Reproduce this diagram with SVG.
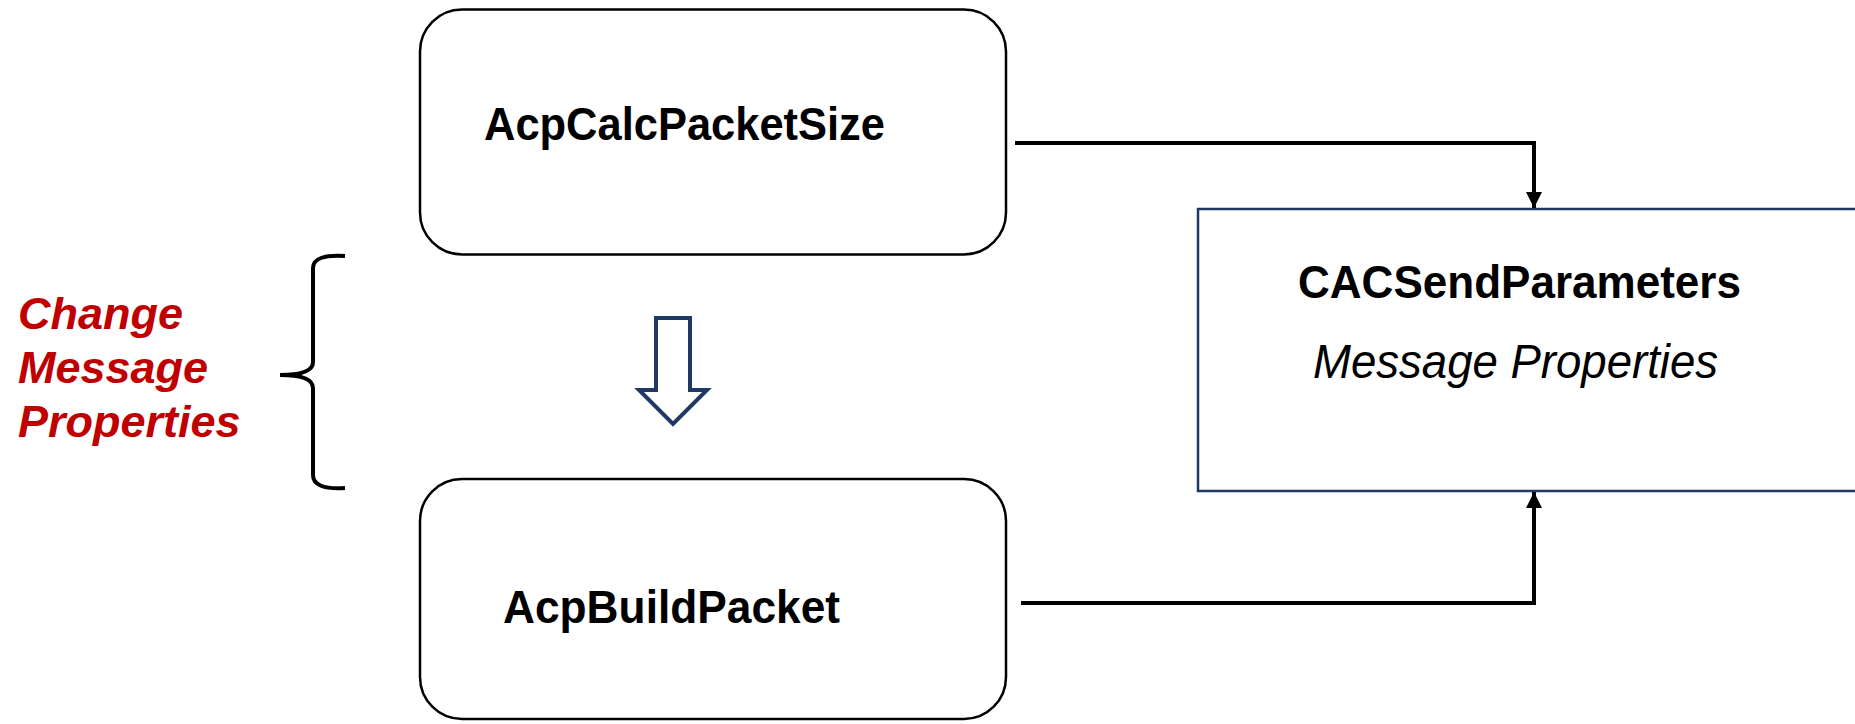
<svg xmlns="http://www.w3.org/2000/svg" width="1855" height="724" viewBox="0 0 1855 724">
<style>
.rbox{fill:#fff;stroke:#000;stroke-width:2.5}
.sbox{fill:#fff;stroke:#1F3864;stroke-width:2.5}
.lbl{font-family:"Liberation Sans",Arial,sans-serif;font-weight:bold;font-size:46px;fill:#000}
.sub{font-family:"Liberation Sans",Arial,sans-serif;font-style:italic;font-weight:normal;font-size:48px;fill:#000}
.red{font-family:"Liberation Sans",Arial,sans-serif;font-style:italic;font-weight:bold;font-size:45px;fill:#C00000}
.conn{fill:none;stroke:#000;stroke-width:4}
</style>
<defs>
<marker id="ah" viewBox="0 0 10 10" refX="10" refY="5" markerWidth="4" markerHeight="4" orient="auto" markerUnits="strokeWidth">
<path d="M0,0 L10,5 L0,10 z" fill="#000"/>
</marker>
</defs>
<rect width="1855" height="724" fill="#fff"/>
<g id="calc">
<rect class="rbox" x="420" y="9.5" width="586" height="245" rx="42" ry="42"/>
<text class="lbl" x="484" y="140" textLength="401" lengthAdjust="spacingAndGlyphs">AcpCalcPacketSize</text>
</g>
<g id="build">
<rect class="rbox" x="420" y="479" width="586" height="240" rx="42" ry="42"/>
<text class="lbl" x="503" y="623" textLength="337" lengthAdjust="spacingAndGlyphs">AcpBuildPacket</text>
</g>
<g id="params">
<rect class="sbox" x="1198" y="209" width="670" height="282"/>
<text class="lbl" x="1298" y="298" textLength="443" lengthAdjust="spacingAndGlyphs">CACSendParameters</text>
<text class="sub" x="1313" y="378" textLength="405" lengthAdjust="spacingAndGlyphs">Message Properties</text>
</g>
<g id="note">
<text class="red" x="18" y="329">Change</text>
<text class="red" x="18" y="383">Message</text>
<text class="red" x="18" y="437">Properties</text>
<path d="M345,256 Q313,254 313,268 L313,362 Q313,375 280,375 Q313,375 313,388 L313,475 Q313,490 345,488" fill="none" stroke="#000" stroke-width="4"/>
</g>
<g id="flow-arrow">
<path d="M656,318 L690,318 L690,390 L707,390 L673,424 L639,390 L656,390 Z" fill="#fff" stroke="#1F3864" stroke-width="4"/>
</g>
<g id="connectors">
<path class="conn" d="M1015,143 L1534,143 L1534,208" marker-end="url(#ah)"/>
<path class="conn" d="M1021,603 L1534,603 L1534,492" marker-end="url(#ah)"/>
</g>
</svg>
